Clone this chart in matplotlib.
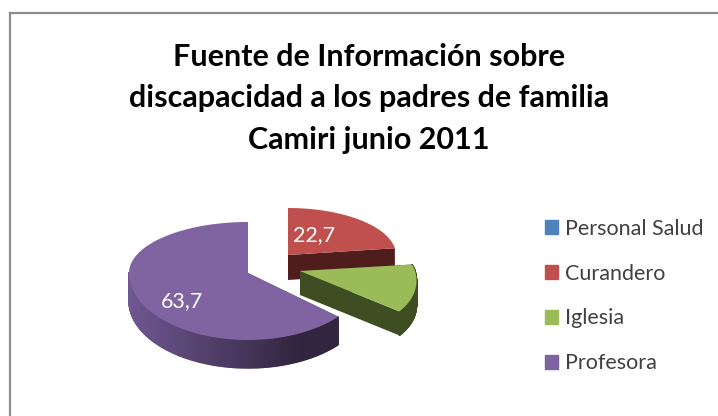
import numpy as np
import matplotlib
matplotlib.use('Agg')
import matplotlib.pyplot as plt
from matplotlib.patches import Patch
from matplotlib.colors import to_rgb

categories = ['Personal Salud', 'Curandero', 'Iglesia', 'Profesora']
values = [0, 22.7, 13.6, 63.7]
labels = ['', '22,7', '', '63,7']
colors = ['#4f81bd', '#c0504d', '#9bbb59', '#8064a2']
side_colors = ['#2c4a6e', '#4f1d1b', '#3f4d23', '#4a3a60']

title = 'Fuente de Información sobre\ndiscapacidad a los padres de familia\nCamiri junio 2011'

plt.rcParams['font.family'] = ['Lato', 'DejaVu Sans']

W, H = 718, 416
fig = plt.figure(figsize=(W/100, H/100), dpi=100)
ax = fig.add_axes([0, 0, 1, 1])
ax.set_xlim(0, W)
ax.set_ylim(H, 0)
ax.axis('off')

# apex, radius x, radius y up, radius y down, shear for each slice
geom = {1: (288, 255, 108, 47, 50, 0), 2: (300, 271, 115, 45, 62, 0.3), 3: (248, 273, 119, 51, 67, 0)}
depth = {1: 25, 2: 24, 3: 28}

def rim(i, a):
    cx, cy, rx, up, down, shear = geom[i]
    c = np.cos(a)
    dy = -np.where(c > 0, up, down)*c
    return cx + rx*np.sin(a) + shear*dy, cy + dy

edges = np.cumsum([0] + values) / 100 * 2*np.pi

for i in [1, 3, 2]:
    a0, a1 = edges[i], edges[i+1]
    cx, cy = geom[i][:2]
    d = depth[i]
    ang = np.linspace(a0, a1, 240)
    x, y = rim(i, ang)
    # cut faces
    for a in [a0, a1]:
        ex, ey = rim(i, a)
        ax.fill([cx, ex, ex, cx], [cy, ey, ey+d, cy+d], color=side_colors[i], lw=0)
    # outer wall, front part only
    for j in range(len(ang)-1):
        if np.cos(ang[j]) > 0.0 and i != 2:
            continue
        if i == 3:
            # side gets dark towards the right and stays dark
            t = min((x[j]-x.min())/170, 1)
            c = (1-t)*np.array(to_rgb('#6f5791')) + t*np.array(to_rgb('#32253f'))
        else:
            c = side_colors[i]
        ax.fill([x[j], x[j+1], x[j+1], x[j]], [y[j], y[j+1], y[j+1]+d, y[j]+d], color=c, lw=1.0)
    # top face
    ax.fill(np.r_[cx, x], np.r_[cy, y], color=colors[i], lw=0)

ax.text(314, 235, labels[1], color='white', fontsize=15.5, ha='center', va='center')
ax.text(182, 301, labels[3], color='white', fontsize=15.5, ha='center', va='center')

fig.text(369/W, 1-98.5/H, title, ha='center', va='center', fontsize=22, fontweight='bold',
         color='black', linespacing=1.6)

handles = [Patch(color=c) for c in colors]
fig.legend(handles, categories, loc='center left', bbox_to_anchor=(545/W, 1-296/H), frameon=False,
           fontsize=15.5, labelspacing=1.16, handlelength=0.62, handleheight=0.62, handletextpad=0.31,
           labelcolor='#404040', borderpad=0, borderaxespad=0)

# chart frame
ax.plot([10, 10], [H, 13], color='#8c8c8c', lw=1.6)
ax.plot([10, W], [13, 13], color='#8c8c8c', lw=1.6)

fig.savefig('out.png', dpi=100)
